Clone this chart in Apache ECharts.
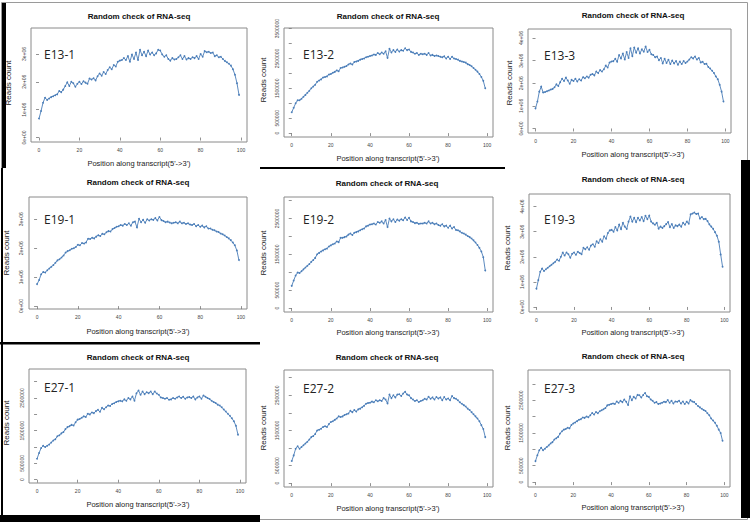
<!DOCTYPE html>
<html><head><meta charset="utf-8">
<script src="https://cdn.jsdelivr.net/npm/echarts@6/dist/echarts.min.js"></script>
<style>html,body{margin:0;padding:0;background:#fff}#c{width:750px;height:522px}</style>
</head><body><div id="c"></div>
<script>
// ---- data (reads count in millions, position 0..99) ----
const sampleNames = ["E13-1","E13-2","E13-3","E19-1","E19-2","E19-3","E27-1","E27-2","E27-3"];
const chartTitle = "Random check of RNA-seq";
const xAxisTitle = "Position along transcript(5'->3')";
const yAxisTitle = "Reads count";
const xTickValues = [0,20,40,60,80,100];
const ySciTicks = [0,1,2,3,4];
const yPlainTicks = [0,0.5,1,1.5,2,2.5,3,3.5];
const yPlainLabels = [0,0.5,1.5,2.5,3.5];

const e13_1 = [0.68,0.95,1.25,1.43,1.35,1.40,1.45,1.48,1.52,1.55,
1.67,1.63,1.72,1.85,1.98,1.85,2.00,1.95,1.82,1.93,
2.00,1.92,2.02,1.97,1.93,2.12,2.08,2.13,2.05,2.20,
2.30,2.22,2.35,2.28,2.42,2.52,2.45,2.60,2.55,2.72,
2.76,2.78,2.85,2.78,2.92,2.72,2.98,2.82,3.05,2.78,
3.15,2.95,3.08,2.92,3.12,2.98,3.05,2.95,3.02,3.15,
3.12,2.98,2.90,2.95,2.82,2.76,2.85,2.80,2.82,2.88,
2.95,2.82,2.92,2.80,2.85,2.82,2.88,2.85,2.92,2.82,
3.00,2.90,3.10,3.06,3.08,3.03,3.05,2.92,2.95,2.88,
2.90,2.82,2.75,2.70,2.65,2.58,2.45,2.25,1.95,1.53];
const e13_2 = [0.70,0.85,1.00,1.10,1.10,1.15,1.22,1.28,1.35,1.42,
1.50,1.56,1.62,1.72,1.76,1.80,1.86,1.88,1.90,1.96,
1.98,2.02,2.05,2.10,2.07,2.18,2.20,2.22,2.25,2.30,
2.33,2.30,2.38,2.40,2.42,2.46,2.48,2.50,2.54,2.56,
2.58,2.60,2.63,2.62,2.68,2.64,2.70,2.66,2.74,2.52,
2.82,2.70,2.78,2.72,2.80,2.73,2.78,2.76,2.84,2.78,
2.80,2.72,2.70,2.66,2.68,2.62,2.66,2.64,2.66,2.62,
2.68,2.60,2.62,2.58,2.60,2.58,2.56,2.54,2.57,2.50,
2.56,2.48,2.56,2.50,2.48,2.46,2.42,2.40,2.38,2.36,
2.31,2.28,2.24,2.18,2.12,2.06,1.98,1.88,1.75,1.50];
const e13_3 = [0.89,1.19,1.63,1.85,1.59,1.61,1.65,1.68,1.72,1.75,
1.82,1.95,1.88,2.05,2.20,2.10,2.25,2.12,1.98,2.15,
2.10,2.20,2.08,2.18,2.12,2.27,2.22,2.30,2.25,2.38,
2.41,2.35,2.52,2.45,2.58,2.52,2.62,2.78,2.70,2.92,
2.96,2.98,3.08,2.95,3.25,3.10,3.32,3.05,3.38,3.12,
3.55,3.20,3.58,3.35,3.55,3.32,3.50,3.40,3.62,3.38,
3.48,3.28,3.25,3.15,3.18,3.02,3.12,2.88,3.08,2.90,
3.04,2.85,3.00,2.88,2.98,2.82,2.96,2.85,2.98,2.90,
2.96,3.05,3.15,3.10,3.18,3.05,3.12,2.92,2.95,2.85,
2.86,2.72,2.65,2.55,2.45,2.30,2.18,1.93,1.63,1.19];
const e19_1 = [0.76,0.90,1.10,1.18,1.16,1.24,1.30,1.36,1.42,1.50,
1.58,1.62,1.68,1.75,1.85,1.90,1.93,1.98,2.00,2.04,
2.12,2.10,2.18,2.16,2.20,2.33,2.32,2.36,2.34,2.40,
2.45,2.42,2.50,2.48,2.55,2.59,2.58,2.66,2.70,2.74,
2.76,2.80,2.78,2.84,2.80,2.86,2.78,2.90,2.92,2.72,
3.02,2.90,2.98,2.88,3.00,2.96,3.00,2.98,3.04,2.96,
3.08,2.97,2.94,2.90,2.92,2.89,2.86,2.88,2.90,2.86,
2.92,2.86,2.88,2.84,2.86,2.82,2.80,2.84,2.76,2.80,
2.74,2.78,2.72,2.76,2.68,2.68,2.64,2.62,2.58,2.56,
2.51,2.48,2.44,2.39,2.34,2.28,2.20,2.10,1.92,1.59];
const e19_2 = [0.62,0.77,0.91,0.99,0.98,1.03,1.08,1.13,1.18,1.23,
1.29,1.34,1.40,1.50,1.54,1.58,1.61,1.64,1.66,1.72,
1.75,1.78,1.80,1.86,1.84,1.96,1.96,1.98,2.00,2.05,
2.08,2.04,2.10,2.12,2.14,2.17,2.20,2.22,2.28,2.30,
2.33,2.34,2.36,2.33,2.40,2.38,2.42,2.36,2.46,2.26,
2.50,2.42,2.48,2.40,2.47,2.44,2.48,2.45,2.53,2.46,
2.52,2.42,2.40,2.37,2.38,2.35,2.36,2.36,2.38,2.36,
2.42,2.36,2.38,2.34,2.36,2.32,2.30,2.34,2.28,2.30,
2.24,2.30,2.22,2.26,2.18,2.17,2.14,2.10,2.08,2.05,
2.01,1.98,1.94,1.89,1.83,1.76,1.68,1.58,1.42,1.05];
const e19_3 = [0.73,1.07,1.40,1.53,1.43,1.50,1.56,1.62,1.68,1.74,
1.80,1.89,1.84,2.00,2.17,2.05,2.17,2.10,1.96,2.12,
2.17,2.08,2.20,2.15,2.10,2.36,2.30,2.38,2.28,2.45,
2.50,2.40,2.62,2.55,2.70,2.60,2.82,2.72,2.95,3.05,
3.07,3.00,3.18,3.05,3.28,3.10,3.35,3.20,3.11,3.40,
3.60,3.40,3.55,3.38,3.55,3.45,3.58,3.42,3.63,3.50,
3.64,3.40,3.33,3.28,3.35,3.12,3.20,3.15,3.22,3.30,
3.38,3.18,3.30,3.15,3.25,3.22,3.28,3.20,3.35,3.28,
3.40,3.32,3.69,3.72,3.76,3.70,3.72,3.52,3.58,3.50,
3.51,3.42,3.29,3.20,3.11,2.98,2.84,2.60,2.09,1.60];
const e27_1 = [0.64,0.82,0.97,1.04,1.00,1.04,1.08,1.14,1.20,1.24,
1.33,1.36,1.42,1.46,1.55,1.61,1.64,1.68,1.66,1.76,
1.84,1.86,1.90,1.94,1.92,2.02,2.00,2.06,2.04,2.10,
2.14,2.08,2.20,2.16,2.22,2.27,2.26,2.32,2.34,2.38,
2.40,2.42,2.40,2.46,2.42,2.50,2.46,2.55,2.42,2.65,
2.73,2.60,2.70,2.62,2.68,2.65,2.70,2.62,2.70,2.64,
2.60,2.52,2.50,2.48,2.50,2.45,2.46,2.50,2.48,2.52,
2.55,2.50,2.54,2.48,2.52,2.53,2.50,2.55,2.46,2.52,
2.55,2.48,2.58,2.54,2.50,2.47,2.42,2.38,2.35,2.30,
2.27,2.22,2.15,2.09,2.02,1.96,1.88,1.79,1.65,1.38];
const e27_2 = [0.63,0.79,0.98,1.05,0.98,1.03,1.08,1.13,1.18,1.24,
1.31,1.34,1.40,1.50,1.52,1.55,1.60,1.62,1.60,1.68,
1.74,1.76,1.80,1.84,1.90,1.88,1.90,1.94,1.96,1.98,
2.06,2.02,2.08,2.04,2.10,2.12,2.16,2.20,2.26,2.28,
2.29,2.32,2.30,2.36,2.33,2.36,2.34,2.42,2.38,2.27,
2.52,2.42,2.50,2.44,2.52,2.53,2.48,2.55,2.60,2.52,
2.50,2.42,2.38,2.34,2.36,2.31,2.34,2.36,2.40,2.38,
2.46,2.40,2.44,2.38,2.45,2.41,2.44,2.36,2.45,2.38,
2.41,2.36,2.48,2.42,2.40,2.36,2.30,2.26,2.22,2.18,
2.12,2.08,2.02,1.96,1.90,1.84,1.76,1.65,1.54,1.31];
const e27_3 = [0.64,0.82,0.97,1.05,0.97,1.02,1.07,1.12,1.18,1.22,
1.30,1.34,1.38,1.48,1.55,1.60,1.62,1.66,1.64,1.74,
1.79,1.82,1.86,1.90,1.92,1.97,1.96,2.00,1.98,2.04,
2.11,2.06,2.14,2.10,2.16,2.19,2.22,2.26,2.34,2.36,
2.38,2.40,2.38,2.46,2.42,2.48,2.44,2.52,2.45,2.35,
2.62,2.50,2.60,2.55,2.66,2.65,2.58,2.66,2.72,2.62,
2.60,2.52,2.48,2.42,2.44,2.38,2.40,2.42,2.45,2.44,
2.50,2.42,2.48,2.40,2.46,2.45,2.48,2.40,2.46,2.38,
2.45,2.40,2.50,2.46,2.44,2.38,2.32,2.28,2.24,2.20,
2.17,2.10,2.04,1.94,1.88,1.81,1.72,1.60,1.50,1.26];

const seriesValues = [e13_1,e13_2,e13_3,e19_1,e19_2,e19_3,e27_1,e27_2,e27_3];

// ---- layout (pixels) ----
const layout = [
 {g:[31,28,216,114], yr:[-0.16,3.93], sci:true,  t:[139,16], xl:[139,163], yl:[8,83],   yx:5, lab:[44,54]},
 {g:[284,28,209,109], yr:[-0.13,3.52], sci:false, t:[388,16], xl:[388,158], yl:[263,80], yx:5, lab:[303,54]},
 {g:[528,29,203,104], yr:[-0.2,4.4],  sci:true,  t:[633,15], xl:[633,154], yl:[509,83], yx:5, lab:[544,55]},
 {g:[29,197,218,112], yr:[-0.1,3.77], sci:true,  t:[138,182], xl:[138,331], yl:[6,253],  yx:6, lab:[44,219]},
 {g:[284,197,209,115], yr:[-0.11,3.1], sci:false, t:[387,183], xl:[388,332], yl:[263,253], yx:5, lab:[303,219]},
 {g:[529,194,201,118], yr:[-0.2,4.5],  sci:true,  t:[633,179], xl:[633,332], yl:[507,248], yx:5, lab:[544,219]},
 {g:[29,369,217,114], yr:[-0.1,3.39], sci:false, t:[138,357], xl:[138,504], yl:[6,423],  yx:5, lab:[44,387]},
 {g:[284,370,209,117], yr:[-0.11,3.22], sci:false, t:[387,357], xl:[388,508], yl:[263,428], yx:5, lab:[303,388]},
 {g:[528,370,202,117], yr:[-0.15,3.42], sci:false, t:[633,356], xl:[633,507], yl:[507,428], yx:5, lab:[544,388]}
];

const lineColor = '#4a7db8';
const FONT = '"Liberation Sans", Arial, sans-serif';

function sciLabel(v){ return v===0 ? '0e+00' : (Math.round(v) + 'e+06'); }
function plainLabel(v){ return String(Math.round(v*1e6)); }

const grids=[], xAxes=[], yAxes=[], series=[], graphics=[];
layout.forEach((L,i)=>{
  grids.push({left:L.g[0], top:L.g[1], width:L.g[2], height:L.g[3], show:true,
    borderColor:'#8a8a8a', borderWidth:1, backgroundColor:'transparent'});
  xAxes.push({type:'value', gridIndex:i, min:-3.96, max:102.96,
    axisLine:{show:false}, splitLine:{show:false},
    axisTick:{show:true, length:3, customValues:xTickValues, lineStyle:{color:'#777', width:0.8}},
    axisLabel:{customValues:xTickValues, fontSize:5, margin:5, color:'#444', fontFamily:FONT}});
  const tv = L.sci ? ySciTicks : yPlainTicks;
  const lv = L.sci ? ySciTicks : yPlainLabels;
  yAxes.push({type:'value', gridIndex:i, min:L.yr[0], max:L.yr[1],
    axisLine:{show:false}, splitLine:{show:false},
    axisTick:{show:true, length:3, customValues:tv.filter(v=>v<=L.yr[1]), lineStyle:{color:'#777', width:0.8}},
    axisLabel:{customValues:lv.filter(v=>v<=L.yr[1]), rotate:90, fontSize:5, margin:L.yx, color:'#444', fontFamily:FONT,
      formatter: L.sci ? sciLabel : plainLabel}});
  series.push({type:'line', name:sampleNames[i], xAxisIndex:i, yAxisIndex:i,
    data: seriesValues[i].map((v,k)=>[k,v]),
    symbol:'circle', symbolSize:1.8, showSymbol:true,
    lineStyle:{color:lineColor, width:0.9}, itemStyle:{color:lineColor}, animation:false});
  graphics.push({type:'text', x:L.t[0], y:L.t[1], style:{text:chartTitle, font:'bold 8px '+FONT, fill:'#111', align:'center', verticalAlign:'middle'}});
  graphics.push({type:'text', x:L.xl[0], y:L.xl[1], style:{text:xAxisTitle, font:'7.5px '+FONT, fill:'#222', align:'center', verticalAlign:'middle'}});
  graphics.push({type:'text', x:L.yl[0], y:L.yl[1], rotation:Math.PI/2, style:{text:yAxisTitle, font:'8px '+FONT, fill:'#222', align:'center', verticalAlign:'middle'}});
  graphics.push({type:'text', x:L.lab[0], y:L.lab[1], style:{text:sampleNames[i], font:'12px "Open Sans", sans-serif', fill:'#222', align:'left', verticalAlign:'middle'}});
});

// frame decorations
const frame = [
  {type:'rect', shape:{x:1.5,y:2.5,width:746,height:517}, style:{fill:'none', stroke:'#9a9a9a', lineWidth:1}},
  {type:'rect', shape:{x:2,y:3,width:4,height:165}, style:{fill:'#000'}},
  {type:'rect', shape:{x:1,y:168,width:2,height:354}, style:{fill:'#000'}},
  {type:'rect', shape:{x:260,y:167,width:245,height:2}, style:{fill:'#000'}},
  {type:'rect', shape:{x:0,y:342,width:260,height:2.5}, style:{fill:'#000'}},
  {type:'rect', shape:{x:0,y:515,width:260,height:7}, style:{fill:'#000'}},
  {type:'rect', shape:{x:741,y:160,width:9,height:358}, style:{fill:'#000'}}
];

const chart = echarts.init(document.getElementById('c'), null, {renderer:'svg'});
chart.setOption({
  backgroundColor:'#fff', animation:false,
  grid:grids, xAxis:xAxes, yAxis:yAxes, series:series,
  graphic:{elements: frame.concat(graphics)}
});
</script></body></html>
